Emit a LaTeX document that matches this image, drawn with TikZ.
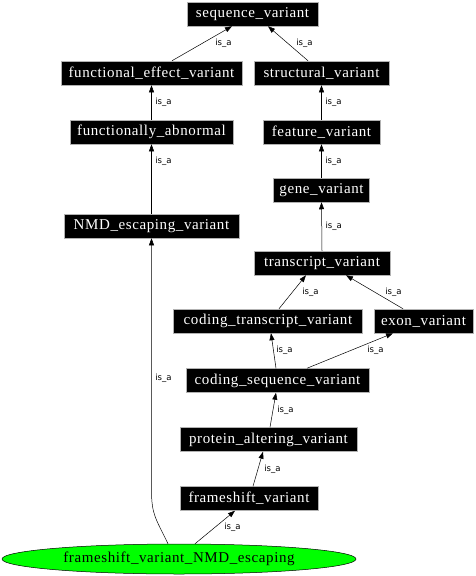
\documentclass[tikz,border=0pt]{standalone}
\usepackage{fontspec}
\setmainfont{Liberation Serif}
\newfontfamily\nodefont[LetterSpace=4]{Liberation Serif}
\newfontfamily\lblfont{DejaVu Sans}
\usetikzlibrary{arrows.meta,shapes.geometric}
\begin{document}
\begin{tikzpicture}[x=1pt,y=-1pt,
  box/.style={rectangle,fill=black,draw=gray!60,line width=0.5pt,text=white,
    minimum height=24pt,inner sep=0pt,font=\fontsize{15}{17}\nodefont},
  isa/.style={draw=black,line width=0.5pt,-{Triangle[length=7pt,width=5pt]}},
  lbl/.style={font=\fontsize{8.5}{10}\lblfont,inner sep=0pt,anchor=west,text=black}]
\useasboundingbox (0,0) rectangle (476,576);
\node[box,minimum width=131pt] (sv)  at (252.5,14)  {sequence\_variant};
\node[box,minimum width=181pt] (fev) at (151.5,73)  {functional\_effect\_variant};
\node[box,minimum width=135pt] (stv) at (321.5,73)  {structural\_variant};
\node[box,minimum width=163pt] (fa)  at (151.5,132) {functionally\_abnormal};
\node[box,minimum width=117pt] (fv)  at (321.5,132) {feature\_variant};
\node[box,minimum width=96pt]  (gv)  at (321.5,190) {gene\_variant};
\node[box,minimum width=175pt] (nmd) at (151.5,226) {NMD\_escaping\_variant};
\node[box,minimum width=136pt] (tv)  at (322,263)   {transcript\_variant};
\node[box,minimum width=189pt] (ctv) at (268,321)   {coding\_transcript\_variant};
\node[box,minimum width=99pt]  (ev)  at (423.5,321) {exon\_variant};
\node[box,minimum width=183pt] (csv) at (277.5,380.5) {coding\_sequence\_variant};
\node[box,minimum width=177pt] (pav) at (268.5,439.5) {protein\_altering\_variant};
\node[box,minimum width=138pt] (fsv) at (249,498.5) {frameshift\_variant};
\node[ellipse,fill={rgb,255:red,0;green,255;blue,0},draw=black,line width=0.5pt,
  minimum width=354pt,minimum height=30pt,inner sep=0pt,
  font=\fontsize{15}{17}\nodefont] (fvn) at (179,559) {frameshift\_variant\_NMD\_escaping};
\coordinate (bend) at (151.5,490);

\draw[isa] ([xshift=20.5]fev.north) -- node[lbl,pos=0.5,xshift=13]{is\_a} ([xshift=-20.5]sv.south);
\draw[isa] ([xshift=-13.5]stv.north) -- node[lbl,pos=0.5,xshift=8]{is\_a} ([xshift=15.5]sv.south);
\draw[isa] (fa.north) -- node[lbl,pos=0.5,xshift=3.5]{is\_a} (fev.south);
\draw[isa] (fv.north) -- node[lbl,pos=0.5,xshift=3.5]{is\_a} (stv.south);
\draw[isa] (gv.north) -- node[lbl,pos=0.5,xshift=3.5]{is\_a} (fv.south);
\draw[isa] (nmd.north) -- node[lbl,pos=0.757,xshift=3.5]{is\_a} (fa.south);
\draw[isa] (tv.north) -- node[lbl,pos=0.5,xshift=3.5]{is\_a} (gv.south);
\draw[isa] ([xshift=11]ctv.north) -- node[lbl,pos=0.5,xshift=9.5]{is\_a} ([xshift=-16]tv.south);
\draw[isa] ([xshift=-20.5]ev.north) -- node[lbl,pos=0.5,xshift=10.5]{is\_a} ([xshift=24]tv.south);
\draw[isa] ([xshift=-1.5]csv.north) -- node[lbl,pos=0.5,xshift=2.5]{is\_a} ([xshift=3]ctv.south);
\draw[isa] ([xshift=29.5]csv.north) -- node[lbl,pos=0.5,xshift=17]{is\_a} ([xshift=-30.5]ev.south);
\draw[isa] ([xshift=1.5]pav.north) -- node[lbl,pos=0.5,xshift=4]{is\_a} ([xshift=-1.5]csv.south);
\draw[isa] ([xshift=4]fsv.north) -- node[lbl,pos=0.5,xshift=6]{is\_a} ([xshift=-5.5]pav.south);
\draw[isa] ([xshift=16]fvn.north) -- node[lbl,pos=0.5,xshift=9]{is\_a} ([xshift=-14]fsv.south);
\draw[isa] ([xshift=-11]fvn.north) .. controls +(-12,-25) and +(0,25) .. (bend)
  -- node[lbl,pos=0.442,xshift=3.5]{is\_a} (nmd.south);
\end{tikzpicture}
\end{document}
